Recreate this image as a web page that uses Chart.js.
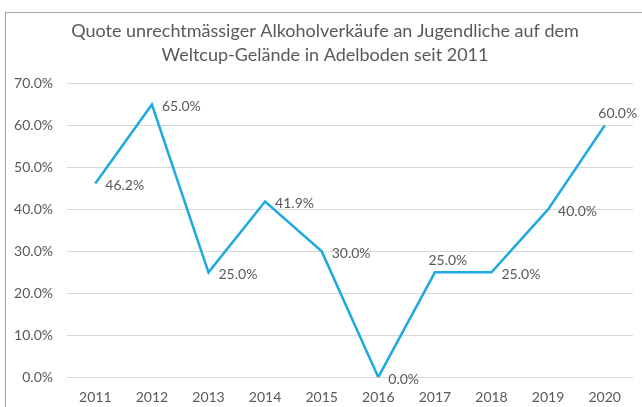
<!DOCTYPE html>
<html>
<head>
<meta charset="utf-8">
<script src="https://cdn.jsdelivr.net/npm/chart.js@4.4.1/dist/chart.umd.min.js"></script>
<style>
  html, body { margin: 0; padding: 0; background: #fff; overflow: hidden; }
  #wrap { position: relative; width: 642px; height: 407px; overflow: hidden; }
  #frame { position: absolute; left: 5px; top: 12px; width: 700px; height: 500px; border: 1px solid #a6a6a6; }
  canvas { position: absolute; left: 0; top: 0; }
</style>
</head>
<body>
<div id="wrap">
  <div id="frame"></div>
  <canvas id="quote" width="642" height="420"></canvas>
</div>
<script>
  // Werte aus der Grafik
  const years = ["2011", "2012", "2013", "2014", "2015", "2016", "2017", "2018", "2019", "2020"];
  const quote = [46.2, 65.0, 25.0, 41.9, 30.0, 0.0, 25.0, 25.0, 40.0, 60.0];
  const yTicks = [0, 10, 20, 30, 40, 50, 60, 70];

  const textColor = "#595959";
  const fontFamily = "Lato, 'Open Sans', sans-serif";

  // Datenbeschriftungen rechts vom Punkt, teilweise oberhalb
  const labelAbove = [false, false, false, false, false, false, true, false, false, true];

  const valueLabels = {
    id: "valueLabels",
    afterDatasetsDraw(chart) {
      const ctx = chart.ctx;
      const meta = chart.getDatasetMeta(0);
      ctx.save();
      ctx.font = "14px " + fontFamily;
      ctx.fillStyle = textColor;
      ctx.textBaseline = "middle";
      meta.data.forEach(function(pt, i) {
        const txt = quote[i].toFixed(1) + "%";
        if (labelAbove[i]) {
          ctx.textAlign = "center";
          ctx.fillText(txt, pt.x + 13, pt.y - 12);
        } else {
          ctx.textAlign = "left";
          ctx.fillText(txt, pt.x + 10, pt.y + 2);
        }
      });
      ctx.restore();
    }
  };

  // Titel wie im Original etwas nach rechts versetzt
  const titleShift = {
    id: "titleShift",
    afterLayout(chart) {
      if (chart.titleBlock) {
        chart.titleBlock.left = 17;
      }
    }
  };

  const data = {
    labels: years,
    datasets: [{
      label: "Quote",
      data: quote,
      borderColor: "#1fa9e1",
      borderWidth: 2.5,
      pointRadius: 0,
      tension: 0,
      fill: false
    }]
  };

  const options = {
    responsive: false,
    animation: false,
    layout: {
      padding: { top: 19, right: 9, bottom: 2, left: 0 }
    },
    scales: {
      x: {
        offset: true,
        grid: { display: false, drawTicks: false },
        border: { display: false },
        ticks: {
          color: textColor,
          font: { family: fontFamily, size: 14 },
          padding: 12,
          maxRotation: 0
        }
      },
      y: {
        min: 0,
        max: 70,
        afterBuildTicks: function(axis) {
          axis.ticks = yTicks.map(function(v) { return { value: v }; });
        },
        afterFit: function(axis) {
          axis.width = 67;
        },
        grid: { color: "#d9d9d9", lineWidth: 1, drawTicks: false },
        border: { display: false },
        ticks: {
          color: textColor,
          font: { family: fontFamily, size: 14 },
          padding: 14,
          callback: function(v) { return v.toFixed(1) + "%"; }
        }
      }
    },
    plugins: {
      legend: { display: false },
      tooltip: { enabled: false },
      title: {
        display: true,
        text: ["Quote unrechtmässiger Alkoholverkäufe an Jugendliche auf dem", "Weltcup-Gelände in Adelboden seit 2011"],
        color: textColor,
        font: { family: fontFamily, size: 18, weight: "normal", lineHeight: 1.35 },
        padding: { top: 0, bottom: 16 }
      }
    }
  };

  const ctx = document.getElementById("quote").getContext("2d");
  const quoteChart = new Chart(ctx, {
    type: "line",
    data: data,
    options: options,
    plugins: [valueLabels, titleShift]
  });
</script>
</body>
</html>
